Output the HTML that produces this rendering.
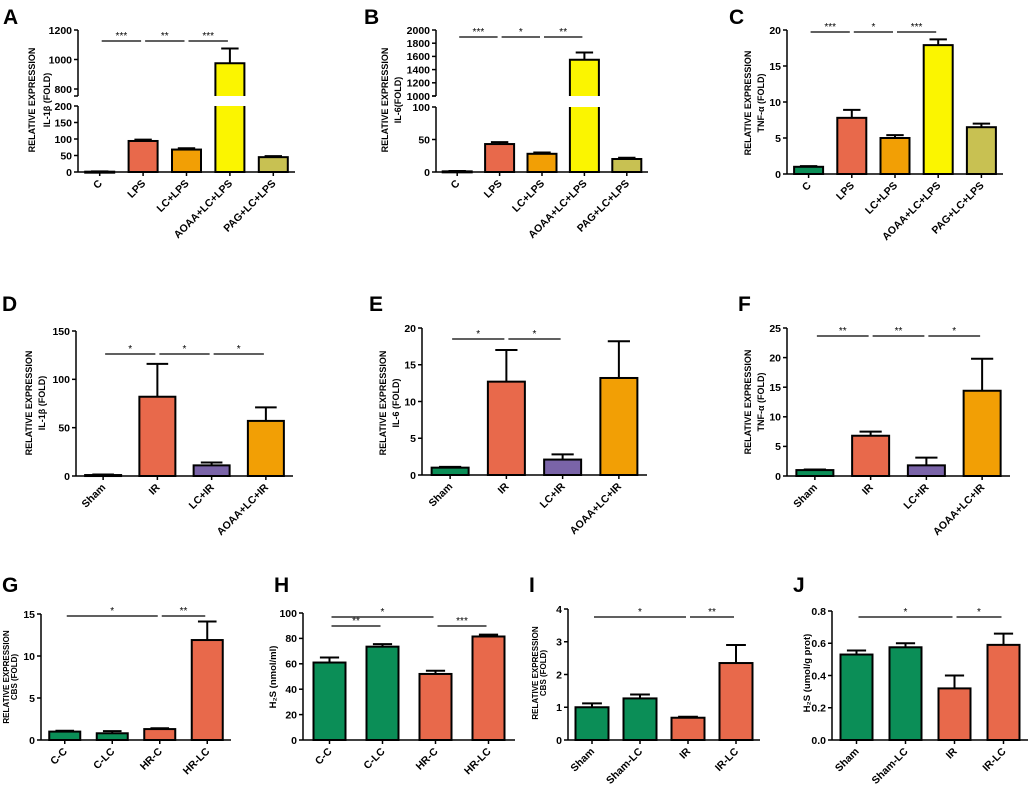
<!DOCTYPE html>
<html><head><meta charset="utf-8"><style>
html,body{margin:0;padding:0;background:#fff}
svg{display:block;font-family:"Liberation Sans",sans-serif}
</style></head><body>
<svg id="fig" width="1031" height="785" viewBox="0 0 1031 785"></svg>
<script>
const catsA=["C","LPS","LC+LPS","AOAA+LC+LPS","PAG+LC+LPS"];
const valsA=[1,94,68,975,45];
const errA=[2,98,72,1075,48];
const valsB=[1,43,28,1550,20];
const errB=[1.5,46,30,1660,22];
const valsC=[1,7.8,5.0,17.9,6.5];
const errC=[1.1,8.9,5.4,18.7,7.0];
const catsD=["Sham","IR","LC+IR","AOAA+LC+IR"];
const valsD=[1,82,11,57];
const errD=[1.5,116,14,71];
const valsE=[1,12.7,2.1,13.2];
const errE=[1.1,17,2.8,18.2];
const valsF=[1,6.8,1.8,14.4];
const errF=[1.1,7.5,3.1,19.8];
const catsG=["C-C","C-LC","HR-C","HR-LC"];
const valsG=[1.0,0.8,1.3,11.9];
const errG=[1.1,1.05,1.4,14.1];
const valsH=[61,73.5,52,81.5];
const errH=[65,75.5,54.5,83];
const catsI=["Sham","Sham-LC","IR","IR-LC"];
const valsI=[1.0,1.27,0.68,2.35];
const errI=[1.12,1.39,0.71,2.9];
const valsJ=[0.53,0.575,0.32,0.59];
const errJ=[0.555,0.6,0.4,0.66];
const ticksA=[[0,50,100,150,200],[800,1000,1200]];
const ticksB=[[0,50,100],[1000,1200,1400,1600,1800,2000]];
const ticksC=[0,5,10,15,20];
const ticksD=[0,50,100,150];
const ticksE=[0,5,10,15,20];
const ticksF=[0,5,10,15,20,25];
const ticksG=[0,5,10,15];
const ticksH=[0,20,40,60,80,100];
const ticksI=[0,1,2,3,4];
const ticksJ=[0,0.2,0.4,0.6,0.8];
const sigA=[[0,1,"***"],[1,2,"**"],[2,3,"***"]];
const sigB=[[0,1,"***"],[1,2,"*"],[2,3,"**"]];
const sigC=[[0,1,"***"],[1,2,"*"],[2,3,"***"]];
const sigD=[[0,1,"*"],[1,2,"*"],[2,3,"*"]];
const sigE=[[0,1,"*"],[1,2,"*"]];
const sigF=[[0,1,"**"],[1,2,"**"],[2,3,"*"]];
const sigG=[[0,2,"*"],[2,3,"**"]];
const sigH=[[0,2,"*"],[0,1,"**"],[2,3,"***"]];
const sigI=[[0,2,"*"],[2,3,"**"]];
const sigJ=[[0,2,"*"],[2,3,"*"]];

const G="#0b8e57",S="#e8694b",O="#f29f05",Y="#fbf500",L="#c8c152",P="#7a64a8";
const NS="http://www.w3.org/2000/svg";
const svg=document.getElementById('fig');
function el(tag,attrs,parent,text){const e=document.createElementNS(NS,tag);for(const k in attrs)e.setAttribute(k,attrs[k]);if(text!==undefined)e.textContent=text;(parent||svg).appendChild(e);return e;}

const panels=[
 {id:"a",letter:"A",lx:3,ly:24,ax:78,xe:295,cats:catsA,vals:valsA,err:errA,colors:[G,S,O,Y,L],
  segs:[{v0:0,v1:200,p0:172,p1:106,ticks:ticksA[0]},{v0:800,v1:1200,p0:89,p1:30,pb:96,ticks:ticksA[1]}],
  sig:sigA,sigY:[41,41,41],t:["RELATIVE EXPRESSION","IL-1β (FOLD)"],tx:[-46,-31],ty:100,tf:9,bw:29},
 {id:"b",letter:"B",lx:364,ly:24,ax:436,xe:648,cats:catsA,vals:valsB,err:errB,colors:[G,S,O,Y,L],
  segs:[{v0:0,v1:100,p0:172,p1:107,ticks:ticksB[0]},{v0:1000,v1:2000,p0:96,p1:30,pb:96,ticks:ticksB[1]}],
  sig:sigB,sigY:[37,37,37],t:["RELATIVE EXPRESSION","IL-6(FOLD)"],tx:[-51,-38],ty:100,tf:9,bw:29},
 {id:"c",letter:"C",lx:729,ly:24,ax:787,xe:1003,cats:catsA,vals:valsC,err:errC,colors:[G,S,O,Y,L],
  segs:[{v0:0,v1:20,p0:174,p1:30,ticks:ticksC}],
  sig:sigC,sigY:[32,32,32],t:["RELATIVE EXPRESSION","TNF-α (FOLD)"],tx:[-39,-26],ty:103,tf:9,bw:29},
 {id:"d",letter:"D",lx:2,ly:311,ax:76,xe:293,cats:catsD,vals:valsD,err:errD,colors:[G,S,P,O],
  segs:[{v0:0,v1:150,p0:476,p1:331,ticks:ticksD}],
  sig:sigD,sigY:[354,354,354],t:["RELATIVE EXPRESSION","IL-1β (FOLD)"],tx:[-47,-34],ty:403,tf:9,bw:36},
 {id:"e",letter:"E",lx:369,ly:311,ax:422,xe:647,cats:catsD,vals:valsE,err:errE,colors:[G,S,P,O],
  segs:[{v0:0,v1:20,p0:475,p1:328,ticks:ticksE}],
  sig:sigE,sigY:[339,339],t:["RELATIVE EXPRESSION","IL-6 (FOLD)"],tx:[-39,-26],ty:403,tf:9,bw:37},
 {id:"f",letter:"F",lx:738,ly:311,ax:787,xe:1010,cats:catsD,vals:valsF,err:errF,colors:[G,S,P,O],
  segs:[{v0:0,v1:25,p0:476,p1:328,ticks:ticksF}],
  sig:sigF,sigY:[336,336,336],t:["RELATIVE EXPRESSION","TNF-α (FOLD)"],tx:[-39,-26],ty:402,tf:9,bw:37},
 {id:"g",letter:"G",lx:2,ly:592,ax:41,xe:231,cats:catsG,vals:valsG,err:errG,colors:[G,G,S,S],
  segs:[{v0:0,v1:15,p0:740,p1:614,ticks:ticksG}],
  sig:sigG,sigY:[616,616],t:["RELATIVE EXPRESSION","CBS (FOLD)"],tx:[-35,-27],ty:677,tf:8,bw:31},
 {id:"h",letter:"H",lx:274,ly:592,ax:303,xe:515,cats:catsG,vals:valsH,err:errH,colors:[G,G,S,S],
  segs:[{v0:0,v1:100,p0:740,p1:613,ticks:ticksH}],
  sig:sigH,sigY:[617,626,626],t:["H₂S (nmol/ml)"],tx:[-30],ty:677,tf:9.5,bw:32},
 {id:"i",letter:"I",lx:529,ly:592,ax:568,xe:760,cats:catsI,vals:valsI,err:errI,colors:[G,G,S,S],
  segs:[{v0:0,v1:4,p0:740,p1:609,ticks:ticksI}],
  sig:sigI,sigY:[617,617],t:["RELATIVE EXPRESSION","CBS (FOLD)"],tx:[-33,-25],ty:673,tf:8,bw:33},
 {id:"j",letter:"J",lx:793,ly:592,ax:832,xe:1028,cats:catsI,vals:valsJ,err:errJ,colors:[G,G,S,S],
  segs:[{v0:0,v1:0.8,p0:740,p1:611,ticks:ticksJ}],
  sig:sigJ,sigY:[617,617],t:["H₂S (umol/g prot)"],tx:[-25],ty:673,tf:9.5,bw:32,dec:1}
];

function yScale(p,v){
  let s=p.segs[0];
  if(p.segs.length>1&&v>p.segs[0].v1)s=p.segs[1];
  return s.p0+(v-s.v0)*(s.p1-s.p0)/(s.v1-s.v0);
}

panels.forEach(p=>{
  const g=el('g',{});
  
  
  const n=p.cats.length, step=(p.xe-p.ax)/n;
  const cx=i=>p.ax+step*(i+0.5);
  const base=p.segs[0].p0;
  const lt=el('text',{x:p.lx,y:p.ly,'font-size':21,'font-weight':'bold'},g,p.letter);
  
  
  p.vals.forEach((v,i)=>{
    const x=cx(i)-p.bw/2, yv=yScale(p,v), ye=yScale(p,p.err[i]);
    const eb=el('g',{stroke:'#000','stroke-width':2},g);
    
    
    el('line',{x1:cx(i),x2:cx(i),y1:yv,y2:ye},eb);
    el('line',{x1:cx(i)-p.bw*0.3,x2:cx(i)+p.bw*0.3,y1:ye,y2:ye},eb);
    if(p.segs.length>1&&v>p.segs[0].v1){
      const top=p.segs[0].p1, pb=p.segs[1].pb;
      const r1=el('rect',{x:x,y:top,width:p.bw,height:base-top,fill:p.colors[i]},g);
      
      
      el('path',{d:`M${x},${top}V${base}H${x+p.bw}V${top}`,fill:'none',stroke:'#000','stroke-width':2},g);
      const r2=el('rect',{x:x,y:yv,width:p.bw,height:pb-yv,fill:p.colors[i]},g);
      
      
      el('path',{d:`M${x},${pb}V${yv}H${x+p.bw}V${pb}`,fill:'none',stroke:'#000','stroke-width':2},g);
    }else{
      const r=el('rect',{x:x,y:yv,width:p.bw,height:Math.max(base-yv,1),fill:p.colors[i],stroke:'#000','stroke-width':2},g);
      
      
    }
  });
  const ax=el('g',{stroke:'#000','stroke-width':1.5},g);
  
  
  el('line',{x1:p.ax,x2:p.xe,y1:base,y2:base},ax);
  p.segs.forEach((s,k)=>{
    const bot=k===0?base:s.pb;
    el('line',{x1:p.ax,x2:p.ax,y1:bot,y2:s.p1},ax);
    if(k>0){el('line',{x1:p.ax-4,x2:p.ax,y1:bot,y2:bot},ax);}
    s.ticks.forEach(t=>{
      const y=yScale({segs:k===0?[s]:[p.segs[0],s]},t);
      el('line',{x1:p.ax-4,x2:p.ax,y1:y,y2:y},ax);
      const tl=el('text',{x:p.ax-6,y:y+3.8,'font-size':10.5,'font-weight':'bold','text-anchor':'end',stroke:'none'},g,p.dec?t.toFixed(p.dec):String(t));
      
      
    });
  });
  p.cats.forEach((c,i)=>{
    el('line',{x1:cx(i),x2:cx(i),y1:base,y2:base+4},ax);
    const xl=el('text',{x:0,y:0,'font-size':10.5,'font-weight':'bold','text-anchor':'end',transform:`translate(${cx(i)+3},${base+12}) rotate(-45)`},g,c);
    
    
  });
  p.t.forEach((line,k)=>{
    const tt=el('text',{x:0,y:0,'font-size':p.tf,'font-weight':'bold','text-anchor':'middle',transform:`translate(${p.ax+p.tx[k]+3},${p.ty}) rotate(-90)`},g,line);
    
    
  });
  p.sig.forEach((s,k)=>{
    const y=p.sigY[k];
    const x1=cx(s[0])+2, x2=cx(s[1])-2;
    const sg=el('g',{},g);
    
    
    el('line',{x1:x1,x2:x2,y1:y,y2:y,stroke:'#000','stroke-width':1.3},sg);
    el('text',{x:(x1+x2)/2,y:y-2,'font-size':10,'text-anchor':'middle'},sg,s[2]);
  });
});
</script>
</body></html>
